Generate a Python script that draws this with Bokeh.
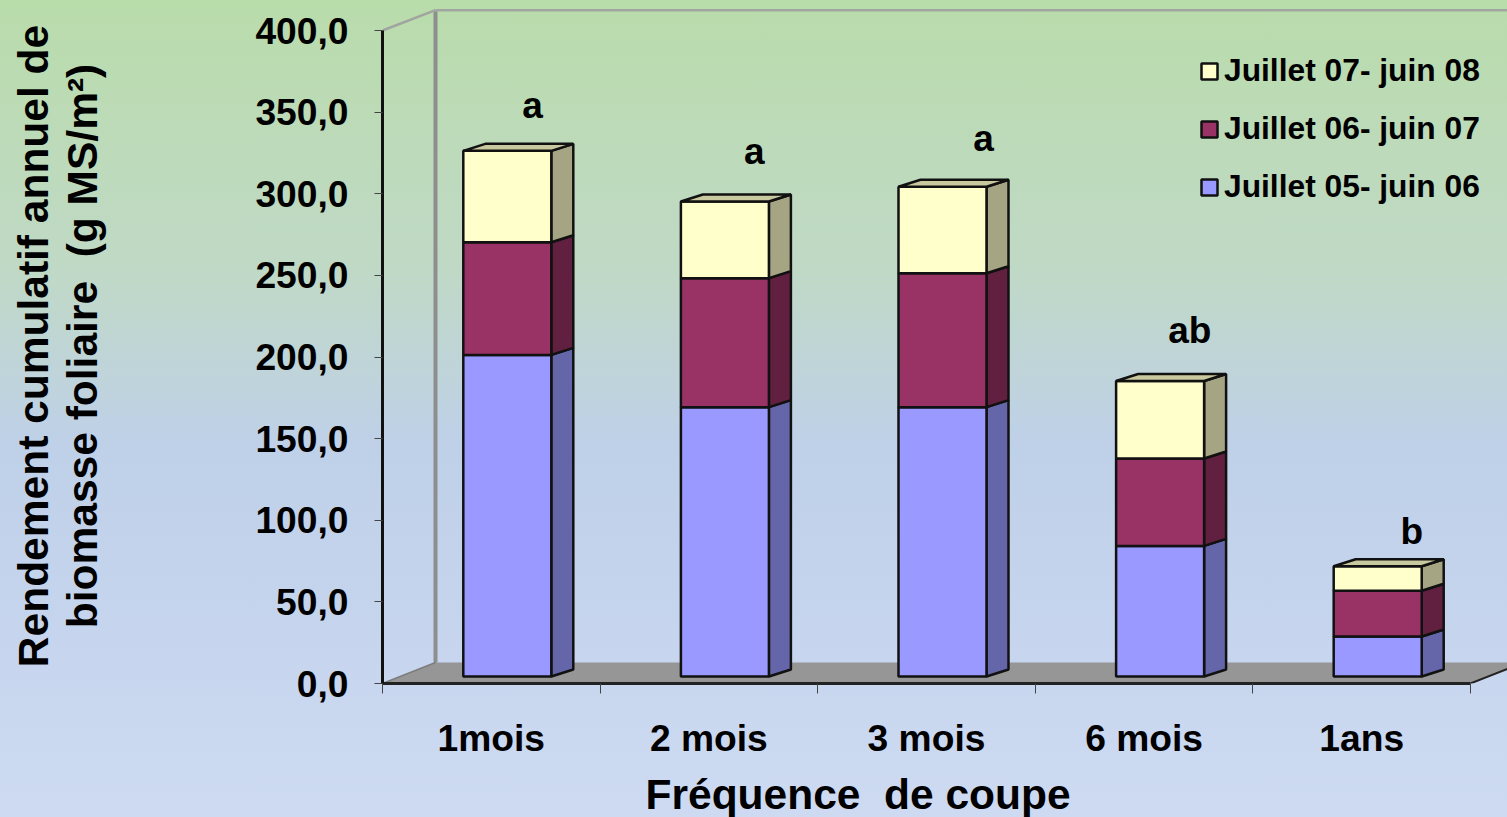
from bokeh.plotting import figure
from bokeh.embed import file_html
from bokeh.resources import INLINE
from bokeh.core.properties import value
from bokeh.models import FixedTicker, Range1d, Legend, LegendItem, GlobalInlineStyleSheet, Title

categories = ["1mois", "2 mois", "3 mois", "6 mois", "1ans"]
jul05 = [197.0, 165.0, 165.0, 80.0, 24.5]
jul06 = [69.0, 79.0, 82.0, 53.5, 28.0]
jul07 = [56.0, 47.0, 53.0, 47.5, 15.0]
series_names = ["Juillet 05- juin 06", "Juillet 06- juin 07", "Juillet 07- juin 08"]
front_colors = ["#9999FF", "#993366", "#FFFFCC"]
side_colors = ["#6466A9", "#61203F", "#A5A583"]
top_color = "#C9C99F"
letters = ["a", "a", "a", "ab", "b"]
letter_x = [0.689, 1.709, 2.762, 3.71, 4.73]
letter_y = [354, 326, 334, 216, 93]
y_ticks = [0, 50, 100, 150, 200, 250, 300, 350, 400]
y_labels = ["0,0", "50,0", "100,0", "150,0", "200,0", "250,0", "300,0", "350,0", "400,0"]

FONT = "Liberation Sans"
PX_X = 217.6      # px per category
PX_Y = 1.6325     # px per value unit
bar_w = 88 / PX_X
bar_shift = 16 / PX_X
dx = 22 / PX_X
dy = 7 / PX_Y
floor_front = 7 / PX_Y
wall_dx = 53 / PX_X
wall_dy = 21 / PX_Y
x_end = 1125 / PX_X
y_end = 675 / PX_Y

p = figure(width=1507, height=817, frame_width=1125, frame_height=675,
           output_backend="svg", toolbar_location=None,
           x_range=Range1d(0, x_end), y_range=Range1d(0, y_end),
           min_border_left=382, min_border_right=0, min_border_top=8, min_border_bottom=134,
           background_fill_alpha=0, border_fill_alpha=0, outline_line_color=None)
p.stylesheets = [GlobalInlineStyleSheet(css=(
    "html{height:100%;overflow:hidden;background:linear-gradient(180deg,"
    "#B9DCAB 0%,#C0D9C6 33%,#BFD0E9 55%,#CDDAF2 100%);}body{background:transparent;}"))]
p.grid.visible = False

# floor and walls
p.patch([0, wall_dx, wall_dx + x_end, x_end, 5], [0, wall_dy, wall_dy, 8.0, 0],
        fill_color="#969696", line_color=None)
p.line([wall_dx, wall_dx], [wall_dy, 400 + wall_dy - 1.0], line_color="#8E8E8E", line_width=4)
p.line([wall_dx, x_end], [400 + wall_dy - 1.0 + 0.6] * 2, line_color="#A0A5A0", line_width=2.5)
p.line([0, wall_dx], [400, 400 + wall_dy - 0.4], line_color="#A0A5A0", line_width=2.5)
p.line([0, wall_dx], [0, wall_dy], line_color="#7C7C7C", line_width=1.5)
p.line([5, 5 + wall_dx], [0, wall_dy], line_color="#222222", line_width=2)

# bars
fronts = []
for s, (vals, fc, sc) in enumerate(zip([jul05, jul06, jul07], front_colors, side_colors)):
    base = [sum(v) + floor_front for v in zip(*[jul05, jul06, jul07][:s])] if s else [floor_front] * 5
    tops = [b + v for b, v in zip(base, vals)]
    lefts = [i + 0.5 + bar_shift - bar_w / 2 for i in range(5)]
    rights = [l + bar_w for l in lefts]
    p.patches([[r, r + dx, r + dx, r] for r in rights],
              [[b, b + dy, t + dy, t] for b, t in zip(base, tops)],
              fill_color=sc, line_color="#111111", line_width=2.5)
    fronts.append(p.quad(left=lefts, right=rights, bottom=base, top=tops,
                         fill_color=fc, line_color="#111111", line_width=2.5))
    if s == 2:
        p.patches([[l, l + dx, r + dx, r] for l, r in zip(lefts, rights)],
                  [[t, t + dy, t + dy, t] for t in tops],
                  fill_color=top_color, line_color="#111111", line_width=2.5)

p.text(letter_x, letter_y, text=letters, text_font=value(FONT), text_font_style="bold",
       text_font_size="37px", text_color="black", text_align="center", text_baseline="middle")

# axes
ya = p.yaxis[0]
ya.ticker = FixedTicker(ticks=y_ticks)
ya.major_label_overrides = dict(zip(y_ticks, y_labels))
ya.bounds = (0, 400)
ya.axis_line_color = "#111111"
ya.axis_line_width = 3
ya.major_tick_line_color = "#444444"
ya.major_tick_out = 8
ya.major_tick_in = 0
ya.minor_tick_line_color = None
ya.major_label_standoff = 26
ya.major_label_text_font = FONT
ya.major_label_text_font_style = "bold"
ya.major_label_text_font_size = "37.2px"
ya.major_label_text_color = "black"
ya.axis_label = "Rendement cumulatif annuel de\nbiomasse foliaire\u00a0\u00a0(g MS/m²)"
ya.axis_label_text_font = FONT
ya.axis_label_text_font_style = "bold"
ya.axis_label_text_font_size = "42.5px"
ya.axis_label_text_color = "black"
ya.axis_label_text_line_height = 1.05
ya.axis_label_standoff = 146

xa = p.xaxis[0]
xa.ticker = FixedTicker(ticks=[i + 0.5 for i in range(5)], minor_ticks=list(range(6)))
xa.major_label_overrides = {i + 0.5: c for i, c in enumerate(categories)}
xa.bounds = (0, 5)
xa.axis_line_color = "#222222"
xa.axis_line_width = 3
xa.major_tick_line_color = None
xa.major_tick_out = 0
xa.major_tick_in = 0
xa.minor_tick_line_color = "#444444"
xa.minor_tick_out = 10
xa.minor_tick_in = 0
xa.major_label_standoff = 23
xa.major_label_text_font = FONT
xa.major_label_text_font_style = "bold"
xa.major_label_text_font_size = "37.2px"
xa.major_label_text_color = "black"

p.add_layout(Title(text="Fréquence\u00a0\u00a0de coupe", align="left", offset=263, standoff=15,
                   text_font=FONT, text_font_style="bold", text_font_size="42.5px",
                   text_color="black"), "below")

legend = Legend(items=[LegendItem(label=series_names[i], renderers=[fronts[i]]) for i in (2, 1, 0)],
                location=(817, 478), orientation="vertical", background_fill_alpha=0,
                border_line_color=None, padding=0, margin=0, spacing=21,
                glyph_width=20, glyph_height=20, label_standoff=5,
                label_text_font=FONT, label_text_font_style="bold",
                label_text_font_size="31.75px", label_text_color="black")
p.add_layout(legend)

open("out.html", "w").write(file_html(p, INLINE))
